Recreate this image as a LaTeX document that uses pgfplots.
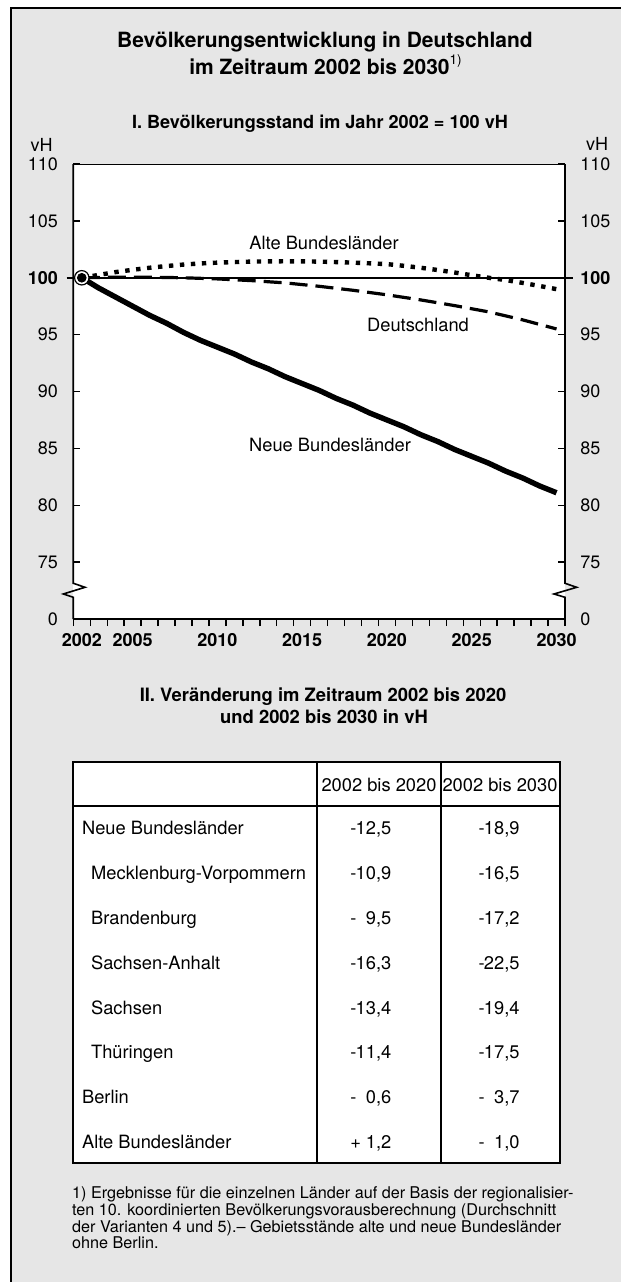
\documentclass[border=0pt]{standalone}
\usepackage{pgfplots}
\pgfplotsset{compat=1.18}
\usepackage{fontspec}
\setmainfont{TeX Gyre Heros}
\definecolor{panel}{RGB}{230,230,230}

\begin{document}
\begin{tikzpicture}[font=\fontsize{9.15}{11}\selectfont]
\begin{scope}[x=0.5pt,y=-0.5pt]
\useasboundingbox (0,0) rectangle (621,1282);
\fill[panel] (11,8) rectangle (640,1300);
\draw[line width=1pt] (11,1300) -- (11,8) -- (640,8);
% titles
\node[anchor=base,inner sep=0pt,font=\fontsize{10.5}{12}\selectfont\bfseries] at (325,47.6) {Bevölkerungsentwicklung in Deutschland};
\node[anchor=base,inner sep=0pt,font=\fontsize{10.5}{12}\selectfont\bfseries] at (325.5,74.3) {im Zeitraum 2002 bis 2030\raisebox{0.85ex}{\fontsize{6.8}{7}\selectfont\mdseries 1)}};
\node[anchor=base,inner sep=0pt,font=\fontsize{9.05}{11}\selectfont\bfseries] at (320,128.2) {I. Bevölkerungsstand im Jahr 2002 = 100 vH};
\node[anchor=base,inner sep=0pt,font=\fontsize{9}{10}\selectfont] at (41.5,151.4) {vH};
\node[anchor=base,inner sep=0pt,font=\fontsize{9}{10}\selectfont] at (597,150.4) {vH};
% section II
\node[anchor=base,inner sep=0pt,font=\fontsize{9.2}{11}\selectfont\bfseries] at (323,701.6) {II. Veränderung im Zeitraum 2002 bis 2020};
\node[anchor=base,inner sep=0pt,font=\fontsize{9.2}{11}\selectfont\bfseries] at (324,723.3) {und 2002 bis 2030 in vH};
% table
\fill[white] (73.3,761.7) rectangle (560,1163.3);
\draw[line width=1pt] (73.3,761.7) rectangle (560,1163.3);
\draw[line width=1pt] (73.3,806) -- (560,806);
\draw[line width=1pt] (316.7,761.7) -- (316.7,1163.3);
\draw[line width=1pt] (441,761.7) -- (441,1163.3);
\node[anchor=base,inner sep=0pt] at (379,791.6) {2002 bis 2020};
\node[anchor=base,inner sep=0pt] at (500,791.6) {2002 bis 2030};
\foreach \y/\ind/\name/\sa/\na/\sb/\nb in {
  834.9/81.7/{Neue Bundesländer}/-/{12,5}/-/{18,9},
  879.9/90.7/{Mecklenburg-Vorpommern}/-/{10,9}/-/{16,5},
  924.9/90.7/{Brandenburg}/-/{9,5}/-/{17,2},
  969.3/90.7/{Sachsen-Anhalt}/-/{16,3}/-/{22,5},
  1014.3/90.7/{Sachsen}/-/{13,4}/-/{19,4},
  1058.3/90.7/{Thüringen}/-/{11,4}/-/{17,5},
  1103.3/81.7/{Berlin}/-/{0,6}/-/{3,7},
  1148.3/81.7/{Alte Bundesländer}/+/{1,2}/-/{1,0}}{
  \node[anchor=base west,inner sep=0pt] at (\ind,\y) {\name};
  \node[anchor=base west,inner sep=0pt] at (350,\y) {\sa};
  \node[anchor=base east,inner sep=0pt] at (391.7,\y) {\na};
  \node[anchor=base west,inner sep=0pt] at (478.3,\y) {\sb};
  \node[anchor=base east,inner sep=0pt] at (520,\y) {\nb};
}
% footnote
\begin{scope}[every node/.style={anchor=base west,inner sep=0pt,font=\fontsize{8.1}{9}\selectfont}]
\node at (71.7,1198.8) {1) Ergebnisse für die einzelnen Länder auf der Basis der regionalisier-};
\node at (71.7,1215.5) {ten 10. koordinierten Bevölkerungsvorausberechnung (Durchschnitt};
\node at (71.7,1232.1) {der Varianten 4 und 5).– Gebietsstände alte und neue Bundesländer};
\node at (71.7,1248.8) {ohne Berlin.};
\end{scope}
\end{scope}

\begin{axis}[
  at={(36.65pt,-309.5pt)}, anchor=south west, scale only axis,
  width=245.85pt, height=227.5pt,
  xmin=2001.5, xmax=2030.5, ymin=70, ymax=110,
  clip=false,
  axis line style={draw=none},
  axis background/.style={fill=white},
  /pgf/number format/assume math mode=true,
  xtick={2001.5,2002.5,...,2030.5}, xticklabels={},
  xtick pos=lower, xtick align=outside,
  extra x ticks={2002,2005,2010,2015,2020,2025,2030},
  extra x tick labels={2002,2005,2010,2015,2020,2025,2030},
  extra x tick style={major tick length=0pt},
  ytick={70,75,...,110},
  yticklabels={0,75,80,85,90,95,\textbf{100},105,110},
  ytick pos=both, ytick align=inside, yticklabel pos=left,
  major tick length=3.5pt,
  tick style={black, line width=0.7pt},
  xticklabel style={anchor=base, inner sep=0pt, yshift=-13.75pt, font=\fontsize{9}{10}\selectfont\bfseries},
  yticklabel style={anchor=east, inner sep=0pt, xshift=-7.5pt, font=\fontsize{9}{10}\selectfont},
]
\draw[line width=1pt] ([xshift=-3.3pt]axis cs:2001.5,100) -- ([xshift=4pt]axis cs:2030.5,100);
% Deutschland
\addplot[black, line width=1.6pt, dash pattern=on 9pt off 4pt] coordinates {
(2002,100) (2004,100.05) (2006,100.05) (2008,100.0) (2010,99.9) (2012,99.75) (2014,99.55) (2016,99.25) (2018,98.9) (2020,98.5) (2022,98.05) (2024,97.55) (2026,97.0) (2028,96.3) (2030,95.5)};
% Alte Bundeslaender
\addplot[black, line width=2.2pt, dash pattern=on 2.2pt off 3.3pt] coordinates {
(2002,100) (2003,100.25) (2004,100.5) (2005,100.7) (2006,100.88) (2007,101.03) (2008,101.16) (2009,101.26) (2010,101.33) (2011,101.38) (2012,101.42) (2013,101.44) (2014,101.45) (2015,101.44) (2016,101.42) (2017,101.38) (2018,101.33) (2019,101.27) (2020,101.2) (2021,101.05) (2022,100.88) (2023,100.68) (2024,100.46) (2025,100.22) (2026,100.0) (2027,99.8) (2028,99.55) (2029,99.28) (2030,99.0)};
% Neue Bundeslaender
\addplot[black, line width=2.7pt] coordinates {
(2002,100) (2003,99.1) (2004,98.3) (2005,97.5) (2006,96.7) (2007,96.0) (2008,95.2) (2009,94.5) (2010,93.9) (2011,93.3) (2012,92.6) (2013,92.0) (2014,91.3) (2015,90.7) (2016,90.1) (2017,89.4) (2018,88.8) (2019,88.1) (2020,87.5) (2021,86.9) (2022,86.2) (2023,85.6) (2024,84.9) (2025,84.3) (2026,83.7) (2027,83.0) (2028,82.4) (2029,81.7) (2030,81.1)};
\addplot[black, only marks, mark=*, mark size=3.6pt, mark options={fill=white, draw=black, line width=0.6pt}] coordinates {(2002,100)};
\addplot[black, only marks, mark=*, mark size=2.2pt, mark options={fill=black}] coordinates {(2002,100)};
\node[inner sep=0pt] at (axis cs:2016.29,103.05) {Alte Bundesländer};
\node[inner sep=0pt] at (axis cs:2021.83,95.85) {Deutschland};
\node[inner sep=0pt] at (axis cs:2016.64,85.3) {Neue Bundesländer};
% axis box with breaks
\draw[line width=0.5pt] (rel axis cs:0,1) -- (rel axis cs:1,1);
\draw[line width=1.1pt] (rel axis cs:0,0) -- (rel axis cs:1,0);
\draw[line width=0.8pt] (rel axis cs:0,1) -- (axis cs:2001.5,73.14) -- ++(5.85pt,-2pt) -- ++(-10.85pt,-3.35pt) -- ++(5pt,-1.65pt) -- (rel axis cs:0,0);
\draw[line width=0.8pt] (rel axis cs:1,1) -- (axis cs:2030.5,73.14) -- ++(5.85pt,-2pt) -- ++(-11.35pt,-3.35pt) -- ++(5.5pt,-1.65pt) -- (rel axis cs:1,0);
\end{axis}

\begin{axis}[
  at={(36.65pt,-309.5pt)}, anchor=south west, scale only axis,
  width=245.85pt, height=227.5pt,
  xmin=2001.5, xmax=2030.5, ymin=70, ymax=110,
  axis line style={draw=none},
  xtick=\empty,
  ytick={70,75,...,110},
  yticklabels={0,75,80,85,90,95,\textbf{100},105,110},
  yticklabel pos=right, ytick pos=right,
  major tick length=0pt, tick style={draw=none},
  yticklabel style={anchor=west, inner sep=0pt, xshift=7.5pt, font=\fontsize{9}{10}\selectfont},
]
\addplot[draw=none] coordinates {(2002,100)};
\end{axis}
\end{tikzpicture}
\end{document}
